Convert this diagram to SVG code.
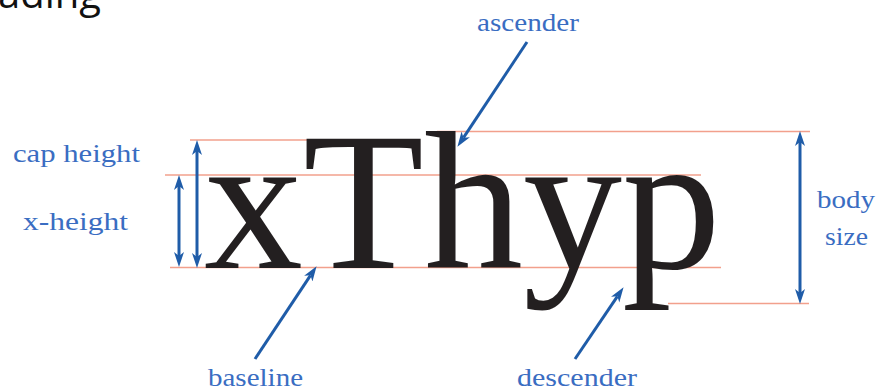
<svg xmlns="http://www.w3.org/2000/svg" width="878" height="391" viewBox="0 0 878 391">
<defs>
<style>
.guide{stroke:#f2a08c;stroke-width:1.3;fill:none}
.arr{stroke:#1f5ca8;stroke-width:3;fill:none}
.lbl{font-family:"Liberation Serif","Times New Roman",serif;font-size:26px;fill:#3a6dc2}
.big{font-family:"Liberation Serif","Times New Roman",serif;font-size:198px;fill:#231f20}
.head{font-family:"Open Sans","Noto Sans",sans-serif;font-size:40px;fill:#111}
</style>
<marker id="ah" markerUnits="userSpaceOnUse" markerWidth="16" markerHeight="12" viewBox="0 0 16 12" refX="4" refY="5" orient="auto-start-reverse">
<path d="M0,0 L15,5 L0,10 L4,5 z" fill="#1f5ca8"/>
</marker>
</defs>
<rect width="878" height="391" fill="#fff"/>
<text class="head" x="-2" y="8">ading</text>
<g id="guides">
<line class="guide" x1="437" y1="131.5" x2="810" y2="131.5"/>
<line class="guide" x1="190" y1="140" x2="312" y2="140"/>
<line class="guide" x1="165" y1="175" x2="701" y2="175"/>
<line class="guide" x1="170" y1="267.5" x2="721" y2="267.5"/>
<line class="guide" x1="668" y1="303.5" x2="809" y2="303.5"/>
</g>
<g id="sample"><text class="big" x="204" y="268">xThyp</text></g>
<g id="connectors">
<line class="arr" x1="197" y1="151" x2="197" y2="257" marker-start="url(#ah)" marker-end="url(#ah)"/>
<line class="arr" x1="179" y1="186" x2="179" y2="256" marker-start="url(#ah)" marker-end="url(#ah)"/>
<line class="arr" x1="800" y1="142" x2="800" y2="293" marker-start="url(#ah)" marker-end="url(#ah)"/>
<line class="arr" x1="527" y1="42" x2="463.5" y2="137.7" marker-end="url(#ah)"/>
<line class="arr" x1="255" y1="359" x2="310.5" y2="275.3" marker-end="url(#ah)"/>
<line class="arr" x1="575" y1="359" x2="617.4" y2="296.3" marker-end="url(#ah)"/>
</g>
<g id="label-ascender"><text class="lbl" x="477" y="31" textLength="102" lengthAdjust="spacingAndGlyphs">ascender</text></g>
<g id="label-cap-height"><text class="lbl" x="13" y="162" textLength="127" lengthAdjust="spacingAndGlyphs">cap height</text></g>
<g id="label-x-height"><text class="lbl" x="23" y="230" textLength="105" lengthAdjust="spacingAndGlyphs">x-height</text></g>
<g id="label-body-size"><text class="lbl" x="817" y="208" textLength="58" lengthAdjust="spacingAndGlyphs">body</text><text class="lbl" x="825" y="245" textLength="43" lengthAdjust="spacingAndGlyphs">size</text></g>
<g id="label-baseline"><text class="lbl" x="208" y="386" textLength="95" lengthAdjust="spacingAndGlyphs">baseline</text></g>
<g id="label-descender"><text class="lbl" x="517" y="386" textLength="120" lengthAdjust="spacingAndGlyphs">descender</text></g>
</svg>
